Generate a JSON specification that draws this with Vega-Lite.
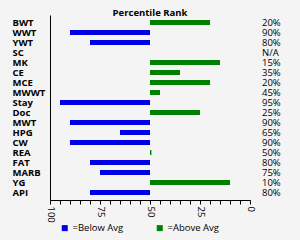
{
  "$schema": "https://vega.github.io/schema/vega-lite/v6.json",
  "width": 200,
  "height": 185,
  "autosize": {"type": "none"},
  "padding": {"left": 50, "top": 15, "right": 50, "bottom": 40},
  "background": "#f4f4f4",
  "config": {
    "view": {"stroke": null},
    "font": "Open Sans",
    "axis": {"domain": true, "domainColor": "#000000", "domainWidth": 1, "domainOpacity": 1}
  },
  "title": {
    "text": "Percentile Rank",
    "font": "Open Sans",
    "fontSize": 9.5,
    "fontWeight": "bold",
    "color": "#000000",
    "offset": -2,
    "anchor": "middle"
  },
  "data": {
    "values": [
      {"measure": "BWT", "pct": 20, "label": "20%", "side": "=Above Avg"},
      {"measure": "WWT", "pct": 90, "label": "90%", "side": "=Below Avg"},
      {"measure": "YWT", "pct": 80, "label": "80%", "side": "=Below Avg"},
      {"measure": "SC", "pct": null, "label": "N/A", "side": null},
      {"measure": "MK", "pct": 15, "label": "15%", "side": "=Above Avg"},
      {"measure": "CE", "pct": 35, "label": "35%", "side": "=Above Avg"},
      {"measure": "MCE", "pct": 20, "label": "20%", "side": "=Above Avg"},
      {"measure": "MWWT", "pct": 45, "label": "45%", "side": "=Above Avg"},
      {"measure": "Stay", "pct": 95, "label": "95%", "side": "=Below Avg"},
      {"measure": "Doc", "pct": 25, "label": "25%", "side": "=Above Avg"},
      {"measure": "MWT", "pct": 90, "label": "90%", "side": "=Below Avg"},
      {"measure": "HPG", "pct": 65, "label": "65%", "side": "=Below Avg"},
      {"measure": "CW", "pct": 90, "label": "90%", "side": "=Below Avg"},
      {"measure": "REA", "pct": 49.3, "label": "50%", "side": "=Above Avg"},
      {"measure": "FAT", "pct": 80, "label": "80%", "side": "=Below Avg"},
      {"measure": "MARB", "pct": 75, "label": "75%", "side": "=Below Avg"},
      {"measure": "YG", "pct": 10, "label": "10%", "side": "=Above Avg"},
      {"measure": "API", "pct": 80, "label": "80%", "side": "=Below Avg"}
    ]
  },
  "encoding": {
    "y": {
      "field": "measure",
      "type": "nominal",
      "sort": null,
      "scale": {
        "domain": ["BWT", "WWT", "YWT", "SC", "MK", "CE", "MCE", "MWWT", "Stay", "Doc", "MWT", "HPG", "CW", "REA", "FAT", "MARB", "YG", "API"],
        "paddingInner": 0,
        "paddingOuter": 0.25
      },
      "axis": {
        "title": null,
        "orient": "left",
        "domain": true,
        "ticks": false,
        "labelAlign": "left",
        "labelPadding": 38,
        "labelFont": "Open Sans",
        "labelFontWeight": "bold",
        "labelFontSize": 9.5,
        "labelColor": "#000000",
        "labelOverlap": false,
        "grid": false
      }
    },
    "x": {
      "field": "pct",
      "type": "quantitative",
      "scale": {"domain": [0, 100], "reverse": true, "nice": false},
      "axis": {
        "title": null,
        "orient": "bottom",
        "domain": true,
        "ticks": true,
        "values": [0, 5, 10, 15, 20, 25, 30, 35, 40, 45, 50, 55, 60, 65, 70, 75, 80, 85, 90, 95, 100],
        "labelExpr": "datum.value % 25 === 0 ? datum.label : ''",
        "labelAngle": 90,
        "labelFont": "Open Sans",
        "labelFontSize": 9.5,
        "labelColor": "#000000",
        "labelPadding": 2,
        "tickSize": 4,
        "tickColor": "#000000",
        "grid": false,
        "labelOverlap": false,
        "labelFlush": false
      }
    }
  },
  "layer": [
    {
      "transform": [{"filter": "datum.pct != null"}],
      "mark": {"type": "bar", "height": 5},
      "encoding": {
        "x2": {"datum": 50},
        "color": {
          "field": "side",
          "type": "nominal",
          "scale": {"domain": ["=Below Avg", "=Above Avg"], "range": ["#0000e6", "#008000"]},
          "legend": {
            "title": null,
            "orient": "none",
            "direction": "horizontal",
            "legendX": 10,
            "legendY": 208,
            "padding": 0,
            "symbolType": "square",
            "symbolSize": 36,
            "symbolStrokeWidth": 0,
            "labelFont": "Open Sans",
            "labelFontSize": 9.5,
            "labelColor": "#000000",
            "labelOffset": 3,
            "columnPadding": 31
          }
        }
      }
    },
    {
      "mark": {"type": "text", "align": "left", "baseline": "middle", "font": "Open Sans", "fontSize": 9.5, "color": "#000000", "invalid": null, "dx": 12},
      "encoding": {
        "x": {"datum": 0},
        "text": {"field": "label"}
      }
    }
  ]
}
